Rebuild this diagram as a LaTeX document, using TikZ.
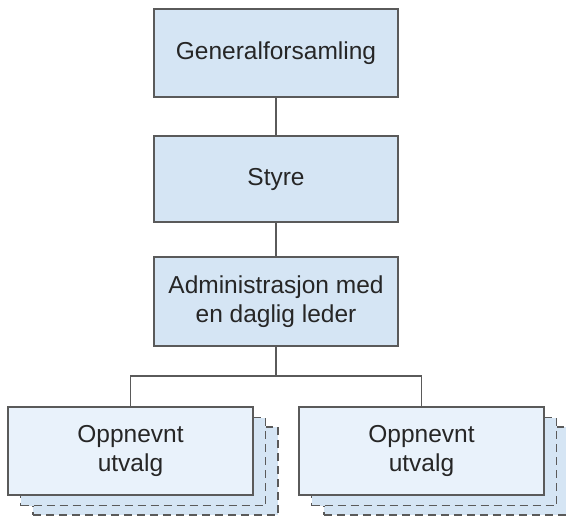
\documentclass[tikz,border=0pt]{standalone}
\usepackage{fontspec}
\setmainfont{Liberation Sans}
\definecolor{boxfill}{HTML}{D5E5F4}
\definecolor{lightfill}{HTML}{E9F2FB}
\definecolor{edgegray}{HTML}{5A5A5A}
\begin{document}
\begin{tikzpicture}[x=1pt,y=-1pt,
  font=\fontsize{24.5}{29}\selectfont,
  base/.style={draw=edgegray, line width=1.3pt, align=center, inner sep=0pt, text=black!85},
  topbox/.style={base, fill=boxfill, minimum width=244pt, minimum height=88pt},
  frontbox/.style={base, fill=lightfill, minimum width=245pt, minimum height=88pt},
  backbox/.style={base, fill=boxfill, dash pattern=on 8pt off 5pt, minimum width=245pt, minimum height=88pt},
  conn/.style={draw=edgegray, line width=1.3pt}]
\useasboundingbox (0,0) rectangle (566,517);
\node[topbox] (gf) at (276,53) {Generalforsamling};
\node[topbox, minimum height=86pt] (styre) at (276,179) {Styre};
\node[topbox, minimum height=89pt] (adm) at (276,301.5) {Administrasjon med\\en daglig leder};
% left stack
\node[backbox] (l3) at (155.5,471) {};
\node[backbox] (l2) at (143,461.5) {};
\node[frontbox] (lf) at (130.5,451) {Oppnevnt\\utvalg};
% right stack
\node[backbox] (r3) at (446.5,471) {};
\node[backbox] (r2) at (434,461.5) {};
\node[frontbox] (rf) at (421.5,451) {Oppnevnt\\utvalg};
\coordinate (bus) at (276,376);
\draw[conn] (gf.south) -- (styre.north);
\draw[conn] (styre.south) -- (adm.north);
\draw[conn] (adm.south) -- (bus);
\draw[conn] (lf.north) |- (bus) -| (rf.north);
\end{tikzpicture}
\end{document}
